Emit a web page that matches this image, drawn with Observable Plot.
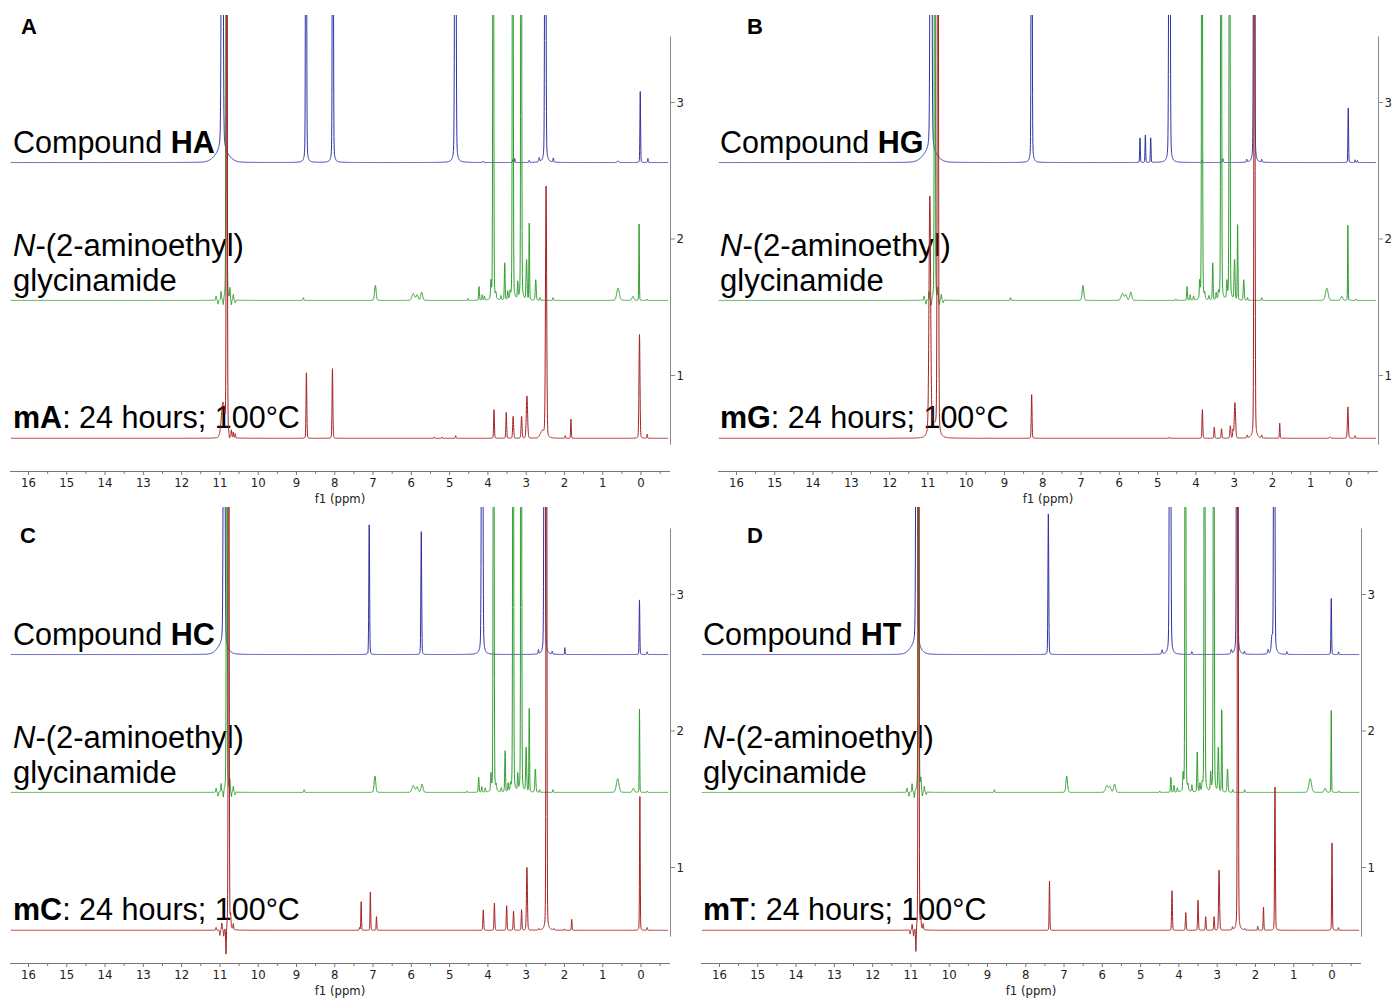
<!DOCTYPE html>
<html><head><meta charset="utf-8">
<script src="https://cdn.jsdelivr.net/npm/d3@7"></script>
<script src="https://cdn.jsdelivr.net/npm/@observablehq/plot@0.6"></script>
<style>
html,body{margin:0;padding:0;background:#fff;overflow:hidden;}
#wrap{position:relative;width:1393px;height:998px;overflow:hidden;}
#labels{position:absolute;left:0;top:0;}
.panel{position:absolute;width:690px;height:506px;}
.panel svg{max-width:none !important;}
</style></head>
<body><div id="wrap"><svg id="labels" width="1393" height="998"></svg></div>
<script>
// ---------- scales / ticks ----------
const xDomain = [16.47, -0.77];
const yDomain = [0.297, 3.637];
const yAxisSpan = [0.49, 3.48];
const specRange = [16.45, -0.70];
const majorTicks = d3.range(0, 17);
const minorTicks = d3.range(-0.5, 16.5, 1);
const yTicks = [1, 2, 3];
const baselines = {blue: 2.56, green: 1.55, red: 0.54};
const colors = {blue: "#3030a6", green: "#2f9e2f", red: "#a32222"};

// ---------- peak lists: [ppm, height, half-width] ----------
const greenNoise = [[11.10,0.03,0.01],[11.05,-0.03,0.01],[10.97,0.06,0.01],[10.91,-0.05,0.01],[10.74,0.08,0.01],[10.70,-0.04,0.01],[10.65,0.04,0.01],[10.60,-0.02,0.01]];

const blueA = [[10.94,6,0.02],[10.95,0.08,0.2],[8.75,6,0.012],[8.05,6,0.012],[4.85,6,0.016],[4.12,0.01,0.015],[3.35,0.02,0.01],[3.30,0.03,0.01],[2.92,0.015,0.01],[2.66,0.03,0.015],[2.50,6,0.014],[2.29,0.03,0.012],[0.60,0.01,0.03],[0.02,0.52,0.01],[-0.18,0.03,0.01]];
const greenA = [[10.83,6,0.012],...greenNoise,[8.82,0.02,0.012],[6.94,0.11,0.025],[5.95,0.05,0.04],[5.85,0.04,0.03],[5.73,0.06,0.03],[4.52,0.015,0.01],[4.23,0.10,0.012],[4.15,0.04,0.012],[4.09,0.03,0.012],[3.92,0.12,0.012],[3.86,6,0.012],[3.79,0.04,0.012],[3.66,0.03,0.012],[3.56,0.27,0.012],[3.48,0.06,0.012],[3.42,0.05,0.012],[3.35,6,0.012],[3.22,0.12,0.012],[3.13,6,0.012],[2.99,0.29,0.015],[2.92,0.56,0.01],[2.75,0.15,0.015],[2.64,0.02,0.01],[2.30,0.02,0.01],[0.60,0.09,0.04],[0.21,0.03,0.03],[0.05,0.56,0.008],[-0.16,0.01,0.01]];
const redA = [[10.82,6,0.013],[10.92,0.25,0.05],[10.70,0.05,0.01],[10.65,0.04,0.01],[10.60,0.03,0.01],[10.75,-0.03,0.01],[8.74,0.48,0.012],[8.06,0.51,0.012],[5.40,0.01,0.01],[5.20,0.01,0.01],[4.84,0.02,0.01],[3.84,0.21,0.012],[3.52,0.19,0.012],[3.34,0.16,0.015],[3.12,0.16,0.015],[2.98,0.31,0.02],[2.48,1.84,0.018],[2.58,0.05,0.06],[1.98,0.02,0.01],[1.83,0.14,0.01],[0.04,0.76,0.015],[-0.16,0.03,0.01]];

const blueB = [[10.92,6,0.02],[10.95,0.08,0.2],[8.29,6,0.012],[5.46,0.18,0.01],[5.32,0.20,0.01],[5.18,0.18,0.01],[4.69,6,0.016],[3.84,0.02,0.01],[3.30,0.03,0.015],[2.67,0.02,0.01],[2.48,6,0.014],[2.28,0.02,0.01],[0.02,0.40,0.01],[-0.16,0.02,0.01],[-0.22,0.015,0.01]];
const greenB = [[10.82,6,0.012],...greenNoise,[8.84,0.02,0.012],[6.95,0.11,0.025],[5.92,0.05,0.04],[5.83,0.04,0.03],[5.70,0.06,0.03],[4.52,0.01,0.01],[4.23,0.10,0.012],[4.15,0.04,0.012],[4.06,0.03,0.012],[3.90,0.12,0.012],[3.84,6,0.012],[3.77,0.04,0.012],[3.66,0.03,0.012],[3.56,0.27,0.012],[3.47,0.05,0.012],[3.41,0.05,0.012],[3.34,6,0.012],[3.19,0.12,0.012],[3.12,6,0.012],[2.99,0.29,0.015],[2.91,0.55,0.01],[2.75,0.15,0.015],[2.65,0.02,0.01],[2.28,0.02,0.01],[0.58,0.09,0.04],[0.19,0.03,0.03],[0.03,0.55,0.008],[-0.18,0.01,0.01]];
const redB = [[10.74,6,0.016],[10.95,1.7,0.025],[10.88,0.10,0.10],[8.29,0.32,0.012],[4.69,0.01,0.01],[3.83,0.21,0.012],[3.52,0.08,0.012],[3.33,0.07,0.012],[3.10,0.09,0.015],[3.03,0.06,0.012],[2.98,0.26,0.02],[2.66,0.02,0.01],[2.47,6,0.014],[2.28,0.02,0.01],[1.81,0.11,0.01],[0.50,0.01,0.02],[0.03,0.23,0.015],[-0.16,0.02,0.01]];

const blueC = [[10.89,6,0.018],[10.95,0.06,0.15],[7.10,0.95,0.012],[5.74,0.90,0.012],[4.15,6,0.016],[2.68,0.03,0.01],[2.52,6,0.014],[2.32,0.02,0.01],[1.99,0.05,0.008],[0.04,0.40,0.01],[-0.16,0.02,0.01]];
const greenC = [[10.82,6,0.012],...greenNoise,[8.80,0.02,0.012],[6.95,0.12,0.025],[5.95,0.05,0.04],[5.85,0.04,0.03],[5.72,0.06,0.03],[4.54,0.01,0.01],[4.24,0.11,0.012],[4.16,0.04,0.012],[4.07,0.03,0.012],[3.92,0.12,0.012],[3.85,6,0.012],[3.78,0.04,0.012],[3.65,0.03,0.012],[3.55,0.30,0.012],[3.47,0.06,0.012],[3.41,0.05,0.012],[3.34,6,0.012],[3.22,0.12,0.012],[3.13,6,0.012],[3.00,0.32,0.015],[2.92,0.61,0.01],[2.76,0.17,0.015],[2.65,0.02,0.01],[2.30,0.02,0.01],[0.61,0.10,0.04],[0.20,0.03,0.03],[0.04,0.61,0.008],[-0.16,0.01,0.01]];
const redC = [[10.77,6,0.012],[10.84,-0.20,0.01],[10.72,0.08,0.01],[10.90,-0.05,0.01],[10.95,0.05,0.01],[10.65,0.04,0.01],[11.00,-0.04,0.01],[11.10,0.02,0.01],[7.35,0.02,0.01],[7.31,0.21,0.01],[7.07,0.28,0.01],[6.91,0.10,0.01],[4.12,0.15,0.012],[3.83,0.20,0.012],[3.51,0.18,0.012],[3.33,0.14,0.012],[3.12,0.15,0.012],[2.98,0.46,0.015],[2.67,0.01,0.01],[2.47,6,0.012],[2.28,0.01,0.01],[2.00,0.01,0.01],[1.81,0.08,0.01],[0.03,0.98,0.01],[-0.16,0.02,0.01]];

const blueD = [[10.85,6,0.018],[10.90,0.06,0.15],[7.41,1.03,0.012],[4.44,0.03,0.015],[4.23,6,0.016],[3.66,0.02,0.01],[2.63,0.03,0.015],[2.48,6,0.014],[2.29,0.02,0.01],[1.67,0.03,0.015],[1.57,0.10,0.02],[1.51,6,0.014],[1.18,0.02,0.01],[0.02,0.41,0.01],[-0.17,0.02,0.01]];
const greenD = [[10.80,6,0.012],...greenNoise,[8.82,0.02,0.012],[6.93,0.12,0.025],[5.88,0.05,0.04],[5.80,0.04,0.03],[5.68,0.06,0.03],[4.50,0.01,0.01],[4.21,0.11,0.012],[4.13,0.05,0.012],[4.04,0.03,0.012],[3.89,0.12,0.012],[3.83,6,0.012],[3.76,0.04,0.012],[3.66,0.05,0.012],[3.52,0.29,0.012],[3.45,0.06,0.012],[3.39,0.05,0.012],[3.33,6,0.012],[3.17,0.13,0.012],[3.09,6,0.012],[2.97,0.32,0.015],[2.88,0.60,0.01],[2.73,0.17,0.015],[2.59,0.02,0.01],[2.28,0.02,0.01],[0.57,0.10,0.04],[0.18,0.03,0.03],[0.02,0.60,0.008],[-0.18,0.01,0.01]];
const redD = [[10.80,6,0.012],[10.87,-0.18,0.01],[10.74,0.07,0.01],[10.93,-0.05,0.01],[10.97,0.04,0.01],[10.68,0.04,0.01],[11.02,-0.03,0.01],[7.38,0.36,0.01],[4.18,0.29,0.012],[3.82,0.13,0.012],[3.50,0.22,0.012],[3.30,0.10,0.012],[3.08,0.10,0.012],[2.95,0.44,0.015],[2.60,0.02,0.01],[2.46,6,0.012],[2.28,0.01,0.01],[1.94,0.03,0.01],[1.79,0.17,0.01],[1.49,1.05,0.012],[0.00,0.64,0.01],[-0.17,0.02,0.01]];

// ---------- panel texts ----------
const panelLetters = ["A", "B", "C", "D"];
const compounds = ["HA", "HG", "HC", "HT"];
const products = ["mA", "mG", "mC", "mT"];
const panelLeft = [0, 708, 0, 691];
const panelTop = [0, 0, 492, 492];
const letterX = [21, 747, 20, 747];
const letterY = [34, 34, 543, 543];
const labelX = [13, 720, 13, 703];
const seriesPeaks = [[blueA, greenA, redA], [blueB, greenB, redB], [blueC, greenC, redC], [blueD, greenD, redD]];

// ---------- spectrum from peak list ----------
const step = 0.003;
function spectrum(peaks, base) {
  let xs = d3.range(specRange[0], specRange[1], -step).concat(peaks.map(p => p[0]));
  xs.sort((a, b) => b - a);
  return xs.map(x => {
    let v = base;
    for (const [c, h, w] of peaks) {
      const t = (x - c) / w;
      if (Math.abs(t) > 90) continue;
      v += h * (0.85 * Math.exp(-Math.LN2 * t * t) + 0.15 / (1 + t * t));
    }
    return {ppm: x, v};
  });
}

const axisFont = "'DejaVu Sans Condensed', 'DejaVu Sans', sans-serif";
const wrap = document.getElementById("wrap");
const labels = d3.select("#labels");
const textFont = "'Liberation Sans', Arial, sans-serif";

panelLetters.forEach((L, i) => {
  const [pb, pg, pr] = seriesPeaks[i];
  const plot = Plot.plot({
    width: 690, height: 506,
    marginLeft: 10, marginRight: 20, marginTop: 15, marginBottom: 35,
    x: {domain: xDomain},
    y: {domain: yDomain},
    style: {background: "transparent", fontFamily: axisFont, color: "#222", overflow: "visible"},
    marks: [
      Plot.line(spectrum(pb, baselines.blue), {x: "ppm", y: "v", stroke: colors.blue, strokeWidth: 1, clip: true}),
      Plot.line(spectrum(pg, baselines.green), {x: "ppm", y: "v", stroke: colors.green, strokeWidth: 1, clip: true}),
      Plot.line(spectrum(pr, baselines.red), {x: "ppm", y: "v", stroke: colors.red, strokeWidth: 1, clip: true}),
      Plot.ruleY([yDomain[0]], {stroke: "#777"}),
      Plot.ruleX([xDomain[1]], {y1: yAxisSpan[0], y2: yAxisSpan[1], stroke: "#888"}),
      Plot.axisX({ticks: majorTicks, tickSize: 4, tickPadding: 2, fontSize: 13, label: null, tickFormat: d => String(d), stroke: "#777"}),
      Plot.axisX({ticks: minorTicks, tickSize: 3, tickFormat: () => "", label: null, stroke: "#777"}),
      Plot.axisY({anchor: "right", ticks: yTicks, tickSize: 4, tickPadding: 2, fontSize: 13, label: null, tickFormat: d => String(d), stroke: "#888"})
    ]
  });
  const div = document.createElement("div");
  div.className = "panel";
  div.style.left = panelLeft[i] + "px";
  div.style.top = panelTop[i] + "px";
  div.appendChild(plot);
  wrap.appendChild(div);

  const top = panelTop[i];
  labels.append("text").attr("x", letterX[i]).attr("y", letterY[i])
    .attr("font-family", textFont).attr("font-size", 22).attr("font-weight", "bold").text(L);

  const t1 = labels.append("text").attr("x", labelX[i]).attr("y", top + 153)
    .attr("font-family", textFont).attr("font-size", 30.5).style("white-space", "pre");
  t1.append("tspan").text("Compound ");
  t1.append("tspan").attr("font-weight", "bold").text(compounds[i]);

  const t2 = labels.append("text").attr("x", labelX[i]).attr("y", top + 256)
    .attr("font-family", textFont).attr("font-size", 31).style("white-space", "pre");
  t2.append("tspan").attr("font-style", "italic").text("N");
  t2.append("tspan").text("-(2-aminoethyl)");

  labels.append("text").attr("x", labelX[i]).attr("y", top + 291)
    .attr("font-family", textFont).attr("font-size", 31).text("glycinamide");

  const t3 = labels.append("text").attr("x", labelX[i]).attr("y", top + 428)
    .attr("font-family", textFont).attr("font-size", 30.5).style("white-space", "pre");
  t3.append("tspan").attr("font-weight", "bold").text(products[i]);
  t3.append("tspan").text(": 24 hours; 100°C");

  labels.append("text").attr("x", panelLeft[i] + 340).attr("y", top + 503)
    .attr("text-anchor", "middle").attr("font-family", axisFont).attr("font-size", 13).attr("fill", "#222").text("f1 (ppm)");
});
</script>
</body></html>
